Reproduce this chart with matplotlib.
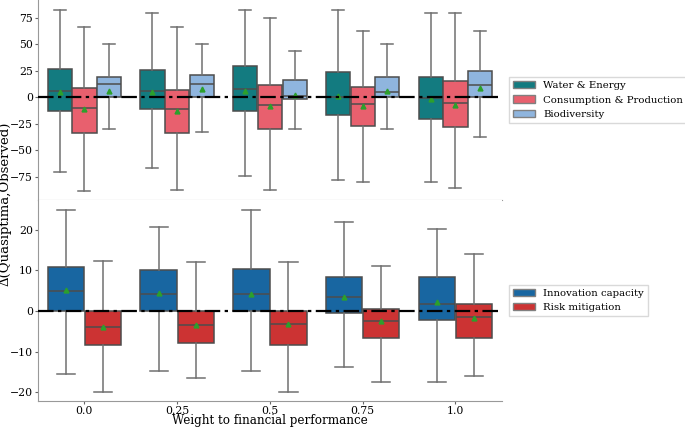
import matplotlib.pyplot as plt
from matplotlib.patches import Patch

plt.rcParams['font.family'] = 'DejaVu Serif'

weights = ['0.0', '0.25', '0.5', '0.75', '1.0']

# each entry: [whisker low, q1, median, q3, whisker high, mean]
water_energy = [[-70.5, -12.5, 6.3, 26.4, 83, 5.0],
                [-66.7, -10.7, 6.3, 26.0, 80, 5.0],
                [-74.8, -12.5, 8.3, 29.6, 83, 6.3],
                [-78.0, -17.0, 0.3, 24.0, 83, 1.5],
                [-79.7, -20.6, -0.5, 19.5, 80, -2.0]]
consumption = [[-89.0, -33.3, -10.0, 8.8, 66.7, -11.3],
               [-87.5, -33.3, -11.3, 7.0, 66.7, -13.0],
               [-87.5, -30.0, -7.3, 12.0, 74.8, -8.6],
               [-79.7, -26.7, -6.6, 9.7, 62.3, -8.6],
               [-85.6, -27.6, -5.4, 15.7, 80.0, -7.3]]
biodiversity = [[-30.0, 0.0, 12.6, 19.5, 50.0, 6.0],
                [-32.3, 0.0, 12.6, 21.5, 50.0, 7.5],
                [-30.0, -2.0, 1.0, 16.6, 44.0, 2.2],
                [-30.0, 0.0, 5.3, 19.5, 50.0, 6.3],
                [-37.7, 0.0, 12.0, 24.5, 62.3, 8.8]]
innovation = [[-15.6, 0.0, 5.0, 10.8, 25.0, 5.2],
              [-14.9, 0.0, 4.2, 10.0, 20.8, 4.4],
              [-14.9, 0.0, 4.2, 10.4, 25.0, 4.2],
              [-13.9, -0.6, 3.4, 8.5, 22.0, 3.4],
              [-17.4, -2.1, 1.7, 8.5, 20.2, 2.2]]
risk = [[-20.0, -8.5, -4.0, 0.0, 12.4, -4.0],
        [-16.6, -7.8, -3.4, 0.0, 12.0, -3.4],
        [-20.0, -8.3, -3.2, 0.0, 12.0, -3.2],
        [-17.4, -6.7, -2.5, 0.6, 11.1, -2.5],
        [-16.0, -6.7, -1.4, 1.7, 14.1, -1.7]]

top_series = [('Water & Energy', water_energy, '#137b80'),
              ('Consumption & Production', consumption, '#e8606e'),
              ('Biodiversity', biodiversity, '#8fb5de')]
bottom_series = [('Innovation capacity', innovation, '#1866a1'),
                 ('Risk mitigation', risk, '#cc3333')]

line_col = '#4d4d4d'
whisk_col = '#707070'


def draw(ax, series):
    n = len(series)
    w = 0.8 / n
    for j, (name, rows, col) in enumerate(series):
        stats = [dict(whislo=r[0], q1=r[1], med=r[2], q3=r[3], whishi=r[4],
                      mean=r[5], fliers=[]) for r in rows]
        pos = [i - 0.4 + w * (j + 0.5) for i in range(len(rows))]
        ax.bxp(stats, positions=pos, widths=w * 0.98, patch_artist=True,
               showmeans=True, manage_ticks=False,
               boxprops=dict(facecolor=col, edgecolor=line_col, linewidth=1.1),
               medianprops=dict(color=line_col, linewidth=1.1),
               whiskerprops=dict(color=whisk_col, linewidth=1.1),
               capprops=dict(color=whisk_col, linewidth=1.1),
               meanprops=dict(marker='^', markerfacecolor='#2ca02c',
                              markeredgecolor='#2ca02c', markersize=3.5))
    ax.axhline(0, color='black', linestyle=(0, (7, 2, 1.5, 2)), linewidth=1.6, zorder=5)
    ax.set_xlim(-0.5, len(weights) - 0.5)
    for s in ['top', 'right']:
        ax.spines[s].set_visible(False)
    for s in ['left', 'bottom']:
        ax.spines[s].set_color('0.6')
    ax.tick_params(colors='0.4', labelcolor='black', labelsize=7.8, length=2.5, pad=1.0)
    handles = [Patch(facecolor=c, edgecolor='0.5', label=nm) for nm, _, c in series]
    leg = ax.legend(handles=handles, loc='center left', bbox_to_anchor=(1.004, 0.5),
                    fontsize=7.3, fancybox=False, framealpha=1, handlelength=2.2)
    leg.get_frame().set_edgecolor('0.85')


fig = plt.figure(figsize=(6.85, 4.3), dpi=100)
ax1 = fig.add_axes([0.0555, 0.535, 0.677, 0.465])
ax2 = fig.add_axes([0.0555, 0.0674, 0.677, 0.4676])

draw(ax1, top_series)
draw(ax2, bottom_series)

ax1.set_ylim(-97, 92)
ax1.set_yticks([-75, -50, -25, 0, 25, 50, 75])
ax1.set_xticks([])
ax2.set_ylim(-22.2, 27.4)
ax2.set_yticks([-20, -10, 0, 10, 20])
ax2.set_xticks(range(len(weights)))
ax2.set_xticklabels(weights)
ax2.set_xlabel('Weight to financial performance', fontsize=8.6, labelpad=-1)

fig.text(0.0075, 0.526, 'Δ(Quasiptima,Observed)', rotation=90,
         va='center', ha='center', fontsize=9.5)

fig.savefig('out.png', dpi=100)
